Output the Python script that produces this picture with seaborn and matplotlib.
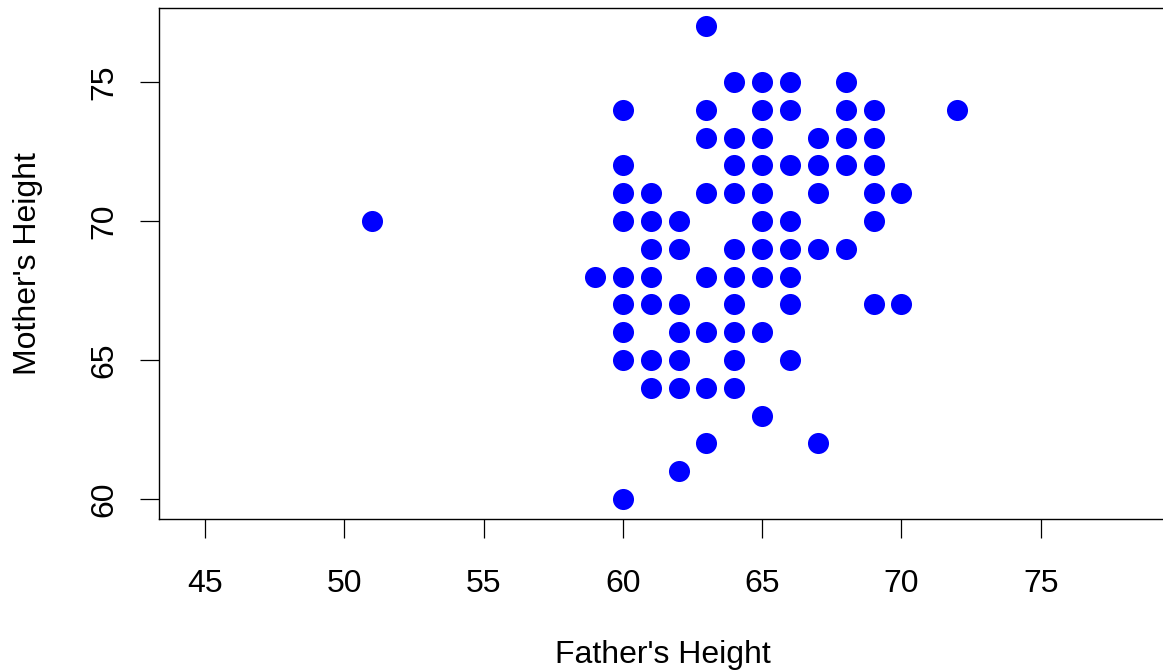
import matplotlib
matplotlib.use("Agg")
import matplotlib.pyplot as plt
import numpy as np
import pandas as pd
import seaborn as sns

# heights, grouped by father's height
father_cols = [51, 59, 60, 61, 62, 63, 64, 65, 66, 67, 68, 69, 70, 72]
mother_by_father = [
    [70],
    [68],
    [74, 72, 71, 70, 68, 67, 66, 65, 60],
    [71, 70, 69, 68, 67, 65, 64],
    [70, 69, 67, 66, 65, 64, 61],
    [77, 74, 73, 71, 68, 66, 64, 62],
    [75, 73, 72, 71, 69, 68, 67, 66, 65, 64],
    [75, 74, 73, 72, 71, 70, 69, 68, 66, 63],
    [75, 74, 72, 70, 69, 68, 67, 65],
    [73, 72, 71, 69, 62],
    [75, 74, 73, 72, 69],
    [74, 73, 72, 71, 70, 67],
    [71, 67],
    [74],
]
x_ticks = [45, 50, 55, 60, 65, 70, 75]
y_ticks = [60, 65, 70, 75]

father = []
mother = []
for f, ms in zip(father_cols, mother_by_father):
    for m in ms:
        father.append(f)
        mother.append(m)
df = pd.DataFrame({"father": father, "mother": mother})

sns.set_style("white")
plt.rcParams["font.family"] = ["Liberation Sans", "DejaVu Sans"]

fig = plt.figure(figsize=(11.63, 6.7), dpi=100)
ax = fig.add_axes([159 / 1163, 1 - 519 / 670, (1167 - 159) / 1163, (519 - 8) / 670])

sns.scatterplot(data=df, x="father", y="mother", color="blue", s=230,
                linewidth=0, ax=ax)

ax.set_xlim(43.35, 79.53)
ax.set_ylim(59.28, 77.66)
ax.set_xticks(x_ticks)
ax.set_yticks(y_ticks)
ax.tick_params(axis="both", bottom=True, left=True, direction="out",
               length=13.7, width=0.9, labelsize=23, color="black",
               labelcolor="black")
ax.tick_params(axis="x", pad=22)
ax.tick_params(axis="y", pad=14.5)
for lab in ax.get_yticklabels():
    lab.set_rotation(90)
    lab.set_va("center")

for sp in ax.spines.values():
    sp.set_visible(True)
    sp.set_color("black")
    sp.set_linewidth(1.0)

ax.set_xlabel("Father's Height", fontsize=23, labelpad=30, color="black")
ax.set_ylabel("Mother's Height", fontsize=23, labelpad=34, color="black")

fig.savefig("out.png", dpi=100)
